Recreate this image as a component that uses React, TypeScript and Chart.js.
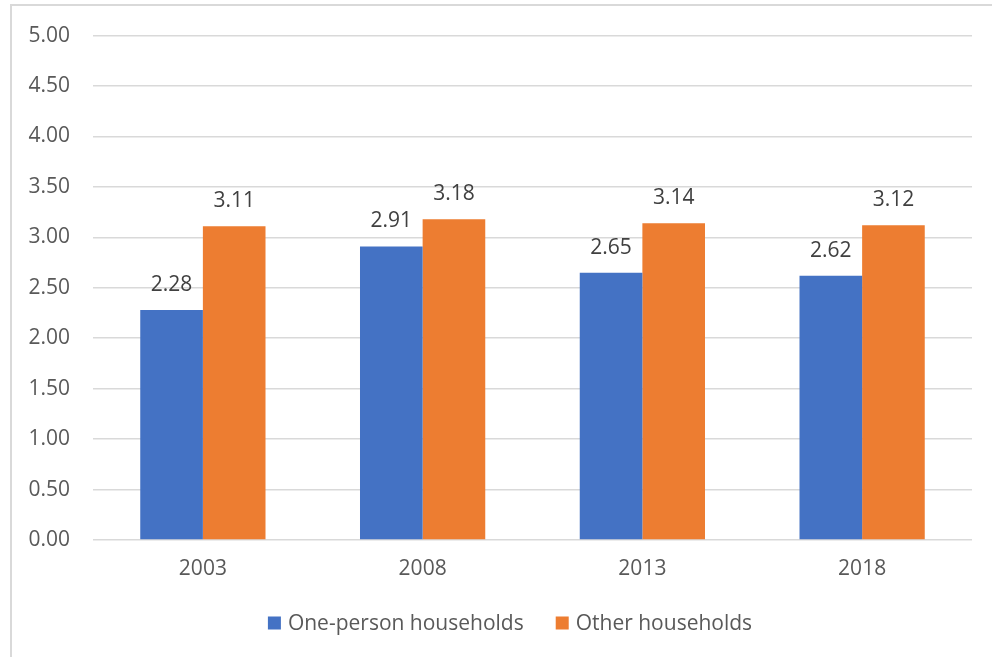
import React, { useEffect, useRef } from "react";
import { Chart, registerables } from "chart.js";

Chart.register(...registerables);

const years = ["2003", "2008", "2013", "2018"];
const onePerson = [2.28, 2.91, 2.65, 2.62];
const otherHouseholds = [3.11, 3.18, 3.14, 3.12];
const seriesNames = ["One-person households", "Other households"];
const seriesColors = ["#4472C4", "#ED7D31"];

const FONT = "'Open Sans', 'Noto Sans', sans-serif";
const FONT_SIZE = 21;

// Value labels above each bar
const valueLabels = {
  id: "valueLabels",
  afterDatasetsDraw(chart: any) {
    const { ctx } = chart;
    ctx.save();
    ctx.font = `${FONT_SIZE}px ${FONT}`;
    ctx.fillStyle = "#404040";
    ctx.textAlign = "center";
    ctx.textBaseline = "middle";
    chart.data.datasets.forEach((ds: any, i: number) => {
      const meta = chart.getDatasetMeta(i);
      meta.data.forEach((bar: any, j: number) => {
        ctx.fillText(Number(ds.data[j]).toFixed(2), bar.x, bar.y - 25);
      });
    });
    ctx.restore();
  },
};

// Single-row legend under the axis, centred on the chart frame
const bottomLegend = {
  id: "bottomLegend",
  afterDraw(chart: any) {
    const { ctx } = chart;
    const box = 13;
    const boxGap = 7;
    const itemGap = 32;
    const centerX = 510;
    const centerY = 623;
    ctx.save();
    ctx.font = `${FONT_SIZE}px ${FONT}`;
    const items = chart.data.datasets.map((ds: any) => ({
      text: ds.label as string,
      color: ds.backgroundColor as string,
      w: ctx.measureText(ds.label).width,
    }));
    const total =
      items.reduce((s: number, it: any) => s + box + boxGap + it.w, 0) +
      itemGap * (items.length - 1);
    let x = centerX - total / 2;
    ctx.textBaseline = "middle";
    ctx.textAlign = "left";
    items.forEach((it: any) => {
      ctx.fillStyle = it.color;
      ctx.fillRect(x, centerY - box / 2, box, box);
      x += box + boxGap;
      ctx.fillStyle = "#595959";
      ctx.fillText(it.text, x, centerY + 1);
      x += it.w + itemGap;
    });
    ctx.restore();
  },
};

export default function App() {
  const canvasRef = useRef<HTMLCanvasElement | null>(null);

  useEffect(() => {
    const canvas = canvasRef.current;
    if (!canvas) return;
    const chart = new Chart(canvas, {
      type: "bar",
      data: {
        labels: years,
        datasets: [
          { label: seriesNames[0], data: onePerson, backgroundColor: seriesColors[0] },
          { label: seriesNames[1], data: otherHouseholds, backgroundColor: seriesColors[1] },
        ],
      },
      options: {
        responsive: false,
        animation: false,
        devicePixelRatio: 1,
        layout: { padding: { top: 35, right: 20, left: 0, bottom: 70 } },
        datasets: {
          bar: { barPercentage: 1.0, categoryPercentage: 0.57 },
        },
        scales: {
          x: {
            afterFit: (scale: any) => {
              scale.height = 47;
            },
            grid: { display: false, drawTicks: false },
            border: { display: false },
            ticks: { color: "#595959", font: { family: FONT, size: FONT_SIZE }, padding: 16 },
          },
          y: {
            min: 0,
            max: 5,
            afterFit: (scale: any) => {
              scale.width = 93;
            },
            ticks: {
              stepSize: 0.5,
              color: "#595959",
              font: { family: FONT, size: FONT_SIZE },
              padding: 23,
              callback: (v: any) => Number(v).toFixed(2),
            },
            grid: { color: "#d9d9d9", lineWidth: 1.5, drawTicks: false },
            border: { display: false },
          },
        },
        plugins: {
          legend: { display: false },
          tooltip: { enabled: false },
        },
      },
      plugins: [valueLabels, bottomLegend],
    });
    return () => chart.destroy();
  }, []);

  return (
    <div style={{ position: "fixed", inset: 0, overflow: "hidden", background: "#fff" }}>
      <div
        style={{
          position: "absolute",
          left: 10,
          top: 4,
          width: 1000,
          height: 700,
          border: "2px solid #d9d9d9",
          boxSizing: "border-box",
        }}
      />
      <canvas
        ref={canvasRef}
        width={992}
        height={657}
        style={{ position: "absolute", left: 0, top: 0, width: 992, height: 657 }}
      />
    </div>
  );
}
